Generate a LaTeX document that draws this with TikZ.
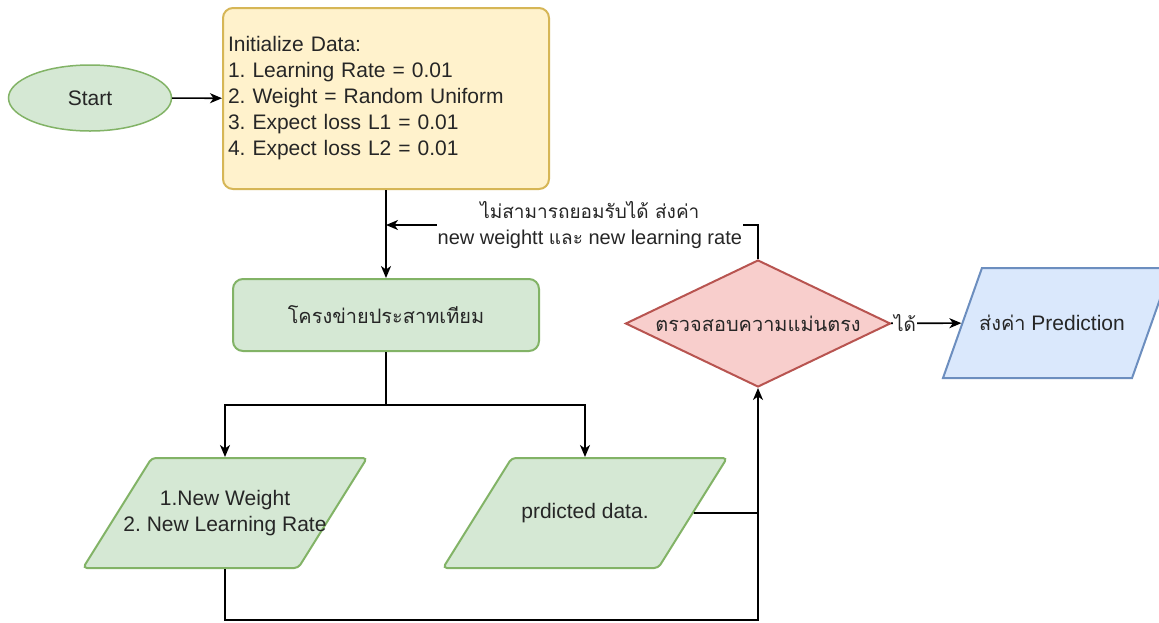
\documentclass[tikz,border=0pt]{standalone}
\usepackage{fontspec}
\setmainfont{Liberation Sans}
\newfontfamily\thai[Script=Thai,Scale=0.95]{Loma}
\usetikzlibrary{shapes.geometric,arrows.meta}
\definecolor{gfill}{HTML}{D5E8D4}
\definecolor{gstroke}{HTML}{82B366}
\definecolor{yfill}{HTML}{FFF2CC}
\definecolor{ystroke}{HTML}{D6B656}
\definecolor{rfill}{HTML}{F8CECC}
\definecolor{rstroke}{HTML}{B85450}
\definecolor{bfill}{HTML}{DAE8FC}
\definecolor{bstroke}{HTML}{6C8EBF}
\definecolor{txt}{HTML}{262626}
\frenchspacing
\tikzset{
  conn/.style={line width=1.6pt, draw=black},
  arr/.style={conn, -{Stealth[length=12pt,width=10pt,inset=3.5pt]}},
  startshape/.style={ellipse, draw=gstroke, fill=gfill, line width=1.5pt, minimum width=163pt, minimum height=66pt, inner sep=0pt},
  initbox/.style={rectangle, rounded corners=10pt, draw=ystroke, fill=yfill, line width=2pt, text width=316pt, align=left, inner sep=5pt, minimum height=181pt},
  nnbox/.style={rectangle, rounded corners=10pt, draw=gstroke, fill=gfill, line width=2pt, minimum width=306pt, minimum height=72pt},
  para/.style={trapezium, trapezium stretches body=true, trapezium left angle=58, trapezium right angle=122, draw=gstroke, fill=gfill, line width=2pt, rounded corners=4pt, minimum width=284pt, minimum height=110pt, inner sep=0pt, text height=110pt, text depth=0pt},
  bluepara/.style={trapezium, trapezium stretches body=true, trapezium left angle=70.5, trapezium right angle=109.5, draw=bstroke, fill=bfill, line width=2pt, minimum width=228pt, minimum height=110pt, inner sep=0pt, text height=110pt, text depth=0pt},
  intext/.style={align=center, text=txt, inner sep=0pt},
  checkshape/.style={diamond, aspect=2.09, draw=rstroke, fill=rfill, line width=2pt, minimum width=265pt, minimum height=127pt, inner sep=0pt},
  lbl/.style={fill=white, inner sep=1pt, align=center, text=txt, font=\fontsize{20}{26}\selectfont}
}
\begin{document}
\begin{tikzpicture}[x=1pt,y=-1pt, font=\fontsize{21}{26}\selectfont, text=txt]
\useasboundingbox[fill=white] (0,0) rectangle (1159,622);

\node[startshape] (start) at (90,98) {Start};
\node[initbox] (init) at (386,98.5) {Initialize Data:\\1. Learning Rate = 0.01\\2. Weight = Random Uniform\\3. Expect loss L1 = 0.01\\4. Expect loss L2 = 0.01};
\node[nnbox] (nn) at (386,315) {\thai โครงข่ายประสาทเทียม};
\node[para, label={[intext]center:1.New Weight\\2. New Learning Rate}] (nw) at (225,513) {};
\node[para, label={[intext]center:prdicted data.}] (pd) at (585,513) {};
\node[checkshape] (chk) at (758,323.5) {\thai ตรวจสอบความแม่นตรง};
\node[bluepara, label={[intext, xshift=-5pt]center:{\thai ส่งค่า} Prediction}] (pred) at (1057,323) {};

\coordinate (fb) at (386,225);
\coordinate (split) at (386,405);
\coordinate (j) at (chk.south |- pd.center);
\coordinate (bl) at (225,620);

\draw[arr] (start) -- (init);
\draw[arr] (init) -- (nn);
\draw[conn] (nn) -- (split);
\draw[arr] (split) -| (nw);
\draw[arr] (split) -| (pd);
\draw[conn] (pd) -- (j);
\draw[conn] (nw) -- (bl) -| (j);
\draw[arr] (j) -- (chk);
\draw[arr] (chk) |- node[lbl, pos=0.726] {{\thai ไม่สามารถยอมรับได้ ส่งค่า}\\new weightt {\thai และ} new learning rate} (fb);
\draw[arr] (chk) -- node[lbl, pos=0.2] {\thai ได้} (pred);
\end{tikzpicture}
\end{document}
